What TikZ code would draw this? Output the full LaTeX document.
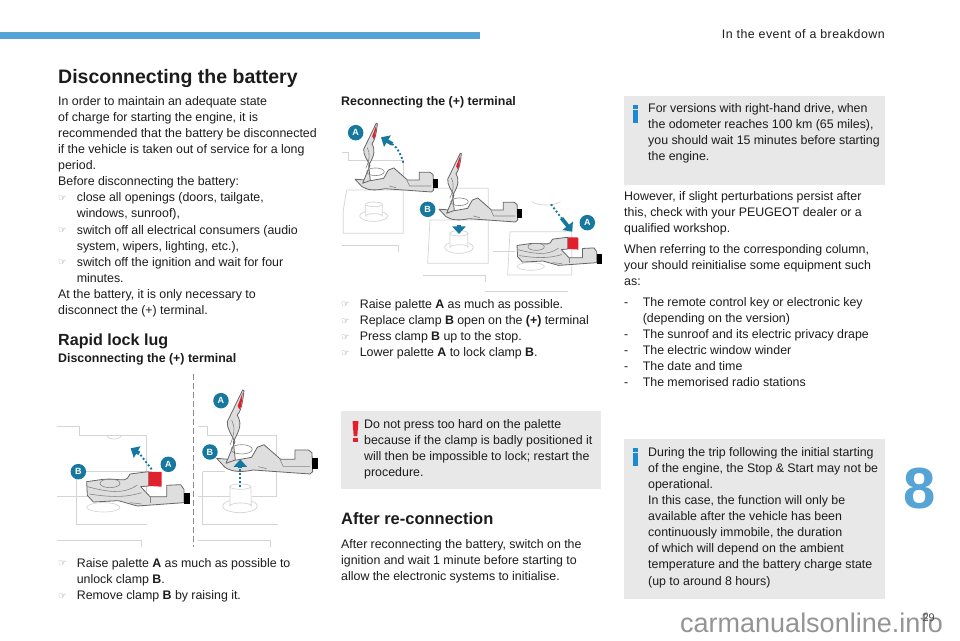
\documentclass[tikz,border=0pt]{standalone}
\usepackage{fontspec}
\usetikzlibrary{arrows.meta}
\setmainfont{Liberation Sans}
\newfontfamily\handfont{DejaVu Sans}
\definecolor{accent}{HTML}{56A3D6}
\definecolor{boxgrey}{HTML}{E8E8E8}
\definecolor{ink}{HTML}{1C1C1C}
\definecolor{tealc}{HTML}{17789F}
\definecolor{iblue}{HTML}{1E88D0}
\definecolor{ired}{HTML}{E0202C}
\definecolor{batline}{HTML}{D4D4D4}
\definecolor{clampfill}{HTML}{DEDEDE}
\definecolor{clampline}{HTML}{666666}
\newcommand{\hand}{\makebox[18.6pt][l]{\raisebox{.3pt}{\handfont\fontsize{9.5}{9.5}\selectfont\textcolor{black!50}{☞}}}}
\newcommand{\ind}{\hspace*{18.6pt}}
\newcommand{\dashitem}{\makebox[18.6pt][l]{-}}
\newcommand{\fs}[1]{\fontsize{12.4}{#1}\selectfont\rule{0pt}{10pt}\ignorespaces}
\tikzset{
  blocktext/.style={anchor=north west,inner sep=0pt,text width=330pt,align=left,text=ink},
  greybox/.style={fill=boxgrey,draw=none},
  badge/.style={circle,fill=tealc,text=white,inner sep=0pt,minimum size=15.5pt,font=\fontsize{9}{9}\selectfont\bfseries},
  bat/.style={draw=batline,line width=.7pt},
  post/.style={draw=batline,line width=.7pt,fill=white},
  clampbody/.style={draw=clampline,line width=.8pt,fill=clampfill,line join=round},
  clampin/.style={draw=clampline!80,line width=.6pt},
  reddetail/.style={fill=ired,draw=none},
  blackend/.style={fill=black,draw=none},
  bluedots/.style={draw=tealc,line width=1.9pt,dash pattern=on 1.9pt off 2.2pt},
  bluehead/.style={draw=tealc,line width=3.8pt,-{Triangle[length=7.5pt,width=13pt,fill=tealc]}},
  sepline/.style={draw=black!45,line width=.8pt,dash pattern=on 6pt off 3pt},
}
\newcommand{\closedclamp}{%
  \draw[batline,line width=.6pt] (160,412) ellipse (50 and 14);
  \path[clampbody] (110,335) -- (160,328) .. controls (200,325) and (225,335) .. (232,325) -- (240,312) -- (296,305) -- (296,348) -- (272,350) -- (300,380) -- (350,380) -- (350,346) -- (392,344) -- (402,358) -- (402,398) -- (262,408) -- (205,392) -- (130,396) -- (112,376) -- cycle;
  \draw[clampin] (180,340) ellipse (30 and 13);
  \draw[clampin] (112,350) .. controls (170,365) and (220,375) .. (262,345);
  \draw[clampin] (118,372) .. controls (170,380) and (220,385) .. (275,368);
  \draw[clampin] (300,380) -- (300,398);
  \draw[clampin] (240,398) -- (275,402);
  \path[reddetail] (296,305) -- (335,306) -- (335,350) -- (296,348) -- cycle;
  \path[blackend] (403,368) rectangle (420,402);
}
\newcommand{\openclamp}{%
  \path[clampbody] (500,265) -- (525,292) .. controls (545,305) and (570,308) .. (610,300) -- (780,312) -- (788,305) -- (786,248) -- (775,240) -- (735,240) -- (735,268) -- (692,268) -- (642,224) -- (622,232) -- (605,262) -- (560,270) -- cycle;
  \path[clampbody] (528,280) -- (555,215) .. controls (545,195) and (530,175) .. (532,155) -- (578,60) -- (582,62) .. controls (578,100) and (572,125) .. (562,135) .. controls (575,160) and (572,175) .. (550,215) -- (556,270) -- cycle;
  \draw[clampin] (575,238) ellipse (32 and 14);
  \draw[clampin] (545,150) .. controls (555,170) and (555,190) .. (540,225);
  \draw[clampin] (625,290) -- (650,296);
  \draw[clampin] (690,268) -- (700,290) -- (780,290);
  \path[reddetail] (563,108) -- (578,68) -- (574,108) -- (568,118) -- cycle;
  \path[blackend] (787,265) rectangle (803,296);
}
\begin{document}
\begin{tikzpicture}[x=1pt,y=-1pt]
\useasboundingbox (0,0) rectangle (960,640);
\fill[white] (0,0) rectangle (960,640);
\fill[accent] (0,32) rectangle (480,39);
\node[anchor=base east,inner sep=0pt,text=ink,font=\fontsize{12.4}{14}\selectfont\addfontfeature{LetterSpace=3.8}] (header) at (885,38) {In the event of a breakdown};
\node[anchor=base west,inner sep=0pt,text=ink,font=\fontsize{19.5}{22}\selectfont\bfseries] (title) at (58,83) {Disconnecting the battery};
\node[blocktext] (intro) at (58,95) {\fs{16.1}In order to maintain an adequate state\\
of charge for starting the engine, it is\\
recommended that the battery be disconnected\\
if the vehicle is taken out of service for a long\\
period.\\
Before disconnecting the battery:\\
\hand close all openings (doors, tailgate,\\
\ind windows, sunroof),\\
\hand switch off all electrical consumers (audio\\
\ind system, wipers, lighting, etc.),\\
\hand switch off the ignition and wait for four\\
\ind minutes.\\
At the battery, it is only necessary to\\
disconnect the (+) terminal.\par};
\node[anchor=base west,inner sep=0pt,text=ink,font=\fontsize{16.1}{18}\selectfont\bfseries] (rapid) at (58,345) {Rapid lock lug};
\node[anchor=base west,inner sep=0pt,text=ink,font=\fontsize{12.4}{14}\selectfont\bfseries] (disc) at (58,362) {Disconnecting the (+) terminal};
\node[blocktext] (leftsteps) at (58,557) {\fs{16.1}\hand Raise palette \textbf{A} as much as possible to\\
\ind unlock clamp \textbf{B}.\\
\hand Remove clamp \textbf{B} by raising it.\par};
\begin{scope}[shift={(50,370)},x=.3333pt,y=-.3333pt]
  \draw[bat] (22,168) -- (88,168) -- (88,195) -- (290,195) -- (290,378);
  \draw[bat] (20,378) -- (290,378);
  \draw[bat] (78,305) -- (78,462) -- (290,462);
  \draw[bat] (78,305) -- (290,305);
  \draw[bat] (20,512) -- (275,512) -- (275,530);
  \draw[bat] (170,195) arc (180:0:22 and 12);
  \closedclamp
  \draw[sepline] (430,12) -- (430,532);
  \draw[bat] (445,168) -- (472,168) -- (472,195) -- (680,195) -- (680,378);
  \draw[bat] (445,378) -- (540,378);
  \draw[bat] (605,378) -- (680,378);
  \draw[bat] (458,305) -- (458,462) -- (685,462);
  \draw[bat] (458,305) -- (525,305);
  \draw[bat] (445,512) -- (660,512) -- (660,530);
  \draw[post] (570,408) ellipse (52 and 20);
  \draw[post] (540,350) -- (540,408) arc (180:360:32 and 9) -- (603,350);
  \draw[post] (571,350) ellipse (31 and 8);
  \openclamp
  \coordinate (a1s) at (305,298); \coordinate (a1n) at (268,250); \coordinate (a1t) at (242,235);
  \coordinate (a2s) at (571,352); \coordinate (a2n) at (571,295); \coordinate (a2t) at (571,268);
  \draw[bluedots] (a1s) -- (a1n);
  \draw[bluehead] (a1n) -- (a1t);
  \draw[bluedots] (a2s) -- (a2n);
  \draw[bluehead] (a2n) -- (a2t);
  \node[badge] (bA1) at (355,283) {A};
  \node[badge] (bB1) at (85,305) {B};
  \node[badge] (bA2) at (513,92) {A};
  \node[badge] (bB2) at (480,246) {B};
\end{scope}
\node[anchor=base west,inner sep=0pt,text=ink,font=\fontsize{12.4}{14}\selectfont\bfseries] (recon) at (341,105) {Reconnecting the (+) terminal};
\begin{scope}[shift={(335,110)},x=.3333pt,y=-.3333pt]
  \draw[bat] (20,128) -- (40,128) -- (40,150) -- (205,150) -- (205,240);
  \draw[bat] (35,240) -- (205,240) -- (205,370) -- (25,370) -- (25,300) -- (35,240);
  \draw[bat] (20,405) -- (190,405) -- (190,425);
  \draw[post] (116,318) ellipse (42 and 16);
  \draw[post] (92,285) -- (92,318) arc (180:360:25 and 7) -- (142,285);
  \draw[post] (117,283) ellipse (25 and 7);
  \draw[bat] (290,235) -- (460,235) -- (460,330) -- (285,330) -- (278,460) -- (460,460) -- (460,330);
  \draw[bat] (265,497) -- (450,497) -- (450,515);
  \draw[post] (372,412) ellipse (43 and 18);
  \draw[post] (345,370) -- (345,412) arc (180:360:27 and 8) -- (398,370);
  \draw[post] (372,370) ellipse (27 and 8);
  \draw[bat] (590,275) arc (150:30:50 and 20);
  \draw[bat] (525,365) -- (710,365) -- (710,495) -- (518,495) -- (525,365);
  \draw[bat] (475,425) -- (540,425);
  \draw[bat] (450,545) -- (700,545);
\end{scope}
\begin{scope}[shift={(218.5,106.8)},x=.273pt,y=-.273pt]\openclamp\end{scope}
\begin{scope}[shift={(302.5,136.8)},x=.273pt,y=-.273pt]\openclamp\end{scope}
\begin{scope}[shift={(487,154)},x=.273pt,y=-.273pt]\closedclamp\end{scope}
\begin{scope}[shift={(335,110)},x=.3333pt,y=-.3333pt]
  \coordinate (a3s) at (205,158); \coordinate (a3n) at (172,102); \coordinate (a3t) at (138,82);
  \coordinate (a4n) at (372,345); \coordinate (a4t) at (372,372);
  \coordinate (a5s) at (648,283); \coordinate (a5n) at (680,325); \coordinate (a5t) at (712,365);
  \draw[bluedots] (a3s) .. controls (198,135) and (190,115) .. (a3n);
  \draw[bluehead] (a3n) -- (a3t);
  \draw[bluehead] (a4n) -- (a4t);
  \draw[bluedots] (a5s) -- (a5n);
  \draw[bluehead] (a5n) -- (a5t);
  \node[badge] (bA3) at (62,68) {A};
  \node[badge] (bB3) at (278,298) {B};
  \node[badge] (bA4) at (757,338) {A};
\end{scope}
\node[blocktext] (midsteps) at (341,298) {\fs{16.1}\hand Raise palette \textbf{A} as much as possible.\\
\hand Replace clamp \textbf{B} open on the \textbf{(+)} terminal\\
\hand Press clamp \textbf{B} up to the stop.\\
\hand Lower palette \textbf{A} to lock clamp \textbf{B}.\par};
\path[greybox] (341,411) rectangle (601,489);
\fill[ired] (352.5,421) -- (358.5,421) -- (357.3,436) -- (353.7,436) -- cycle;
\fill[ired] (353.3,437.5) rectangle (357.7,441.5);
\node[blocktext] (warn) at (364,418) {\fs{16.1}Do not press too hard on the palette\\
because if the clamp is badly positioned it\\
will then be impossible to lock; restart the\\
procedure.\par};
\node[anchor=base west,inner sep=0pt,text=ink,font=\fontsize{16.5}{18}\selectfont\bfseries] (after) at (341,524) {After re-connection};
\node[blocktext] (afterpara) at (341,538) {\fs{16.1}After reconnecting the battery, switch on the\\
ignition and wait 1 minute before starting to\\
allow the electronic systems to initialise.\par};
\path[greybox] (624,96) rectangle (885,185);
\fill[iblue] (633,105) rectangle (638,109);
\fill[iblue] (633,110) rectangle (638,123);
\node[blocktext] (info1) at (648,102) {\fs{16.1}For versions with right-hand drive, when\\
the odometer reaches 100 km (65 miles),\\
you should wait 15 minutes before starting\\
the engine.\par};
\node[blocktext] (however) at (624,190) {\fs{16.1}However, if slight perturbations persist after\\
this, check with your PEUGEOT dealer or a\\
qualified workshop.\par};
\node[blocktext] (when) at (624,243) {\fs{16.1}When referring to the corresponding column,\\
your should reinitialise some equipment such\\
as:\par};
\node[blocktext] (list) at (624,296) {\fs{16.1}\dashitem The remote control key or electronic key\\
\ind(depending on the version)\\
\dashitem The sunroof and its electric privacy drape\\
\dashitem The electric window winder\\
\dashitem The date and time\\
\dashitem The memorised radio stations\par};
\path[greybox] (624,439) rectangle (885,599);
\fill[iblue] (633,448) rectangle (638,452);
\fill[iblue] (633,453) rectangle (638,466);
\node[blocktext] (info2) at (648,446) {\fs{16.1}During the trip following the initial starting\\
of the engine, the Stop \& Start may not be\\
operational.\\
In this case, the function will only be\\
available after the vehicle has been\\
continuously immobile, the duration\\
of which will depend on the ambient\\
temperature and the battery charge state\\
(up to around 8 hours)\par};
\node[anchor=base,inner sep=0pt,text=accent,font=\fontsize{58}{60}\selectfont\bfseries] (chapter) at (920,508) {8};
\node[anchor=base west,inner sep=0pt,text=black!42,font=\fontsize{27}{29}\selectfont] (wm) at (680,632) {carmanualsonline.info};
\node[anchor=base east,inner sep=0pt,text=black!70,font=\fontsize{11}{13}\selectfont] (page) at (935,621) {29};
\end{tikzpicture}
\end{document}
